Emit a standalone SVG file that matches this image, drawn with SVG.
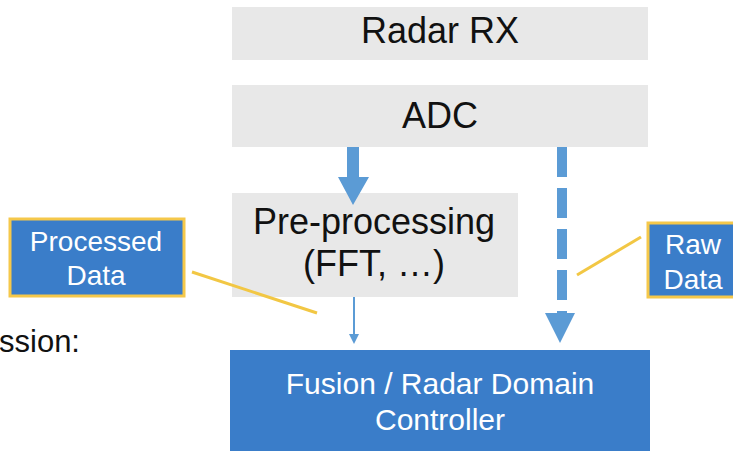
<svg xmlns="http://www.w3.org/2000/svg" width="733" height="451" viewBox="0 0 733 451">
<style>
.gray{fill:#E8E8E8}
.blue{fill:#3A7DC9}
.callout{fill:#3A7DC9;stroke:#F5C84A;stroke-width:3}
.tb{font-family:"Liberation Sans",Arial,sans-serif;fill:#111;font-size:36px;text-anchor:middle}
.tw{font-family:"Liberation Sans",Arial,sans-serif;fill:#fff;font-size:30px;text-anchor:middle}
.tc{font-family:"Liberation Sans",Arial,sans-serif;fill:#fff;font-size:28px;text-anchor:middle}
.lead{stroke:#F2C744;stroke-width:3;fill:none}
.arr{fill:#5B9BD5}
</style>
<rect width="733" height="451" fill="#fff"/>
<text x="-1" y="352" font-family="Liberation Sans, Arial, sans-serif" font-size="31" fill="#111">ssion:</text>
<g id="radar-rx"><rect class="gray" x="232" y="7" width="416" height="53"/><text class="tb" x="440" y="43">Radar RX</text></g>
<g id="adc"><rect class="gray" x="232" y="85" width="416" height="62"/><text class="tb" x="440" y="128">ADC</text></g>
<g id="preproc"><rect class="gray" x="232" y="193" width="286" height="104"/><text class="tb" x="374" y="234">Pre-processing</text><text class="tb" x="374" y="276">(FFT, …)</text></g>
<g id="fusion"><rect class="blue" x="230" y="350" width="420" height="110"/><text class="tw" x="440" y="394">Fusion / Radar Domain</text><text class="tw" x="440" y="430">Controller</text></g>
<g id="processed-data"><rect class="callout" x="10" y="219" width="174" height="77"/><text class="tc" x="96" y="251">Processed</text><text class="tc" x="96" y="285">Data</text></g>
<g id="raw-data"><rect class="callout" x="648" y="223" width="95" height="74"/><text class="tc" x="693" y="254">Raw</text><text class="tc" x="693" y="289">Data</text></g>
<g id="connectors">
<path class="arr" d="M347,147 H359 V177 H369 L353,205 L338,177 H347 Z"/>
<path d="M562,147 V313" stroke="#5B9BD5" stroke-width="10" stroke-dasharray="30 11" fill="none"/>
<path class="arr" d="M545,313 H575 L560,343 Z"/>
<line x1="354" y1="297" x2="354" y2="336" stroke="#5B9BD5" stroke-width="2"/>
<path class="arr" d="M349,334 H359 L354,344 Z"/>
<line class="lead" x1="192" y1="272" x2="317" y2="313"/>
<line class="lead" x1="577" y1="275" x2="641" y2="237"/>
</g>
</svg>
